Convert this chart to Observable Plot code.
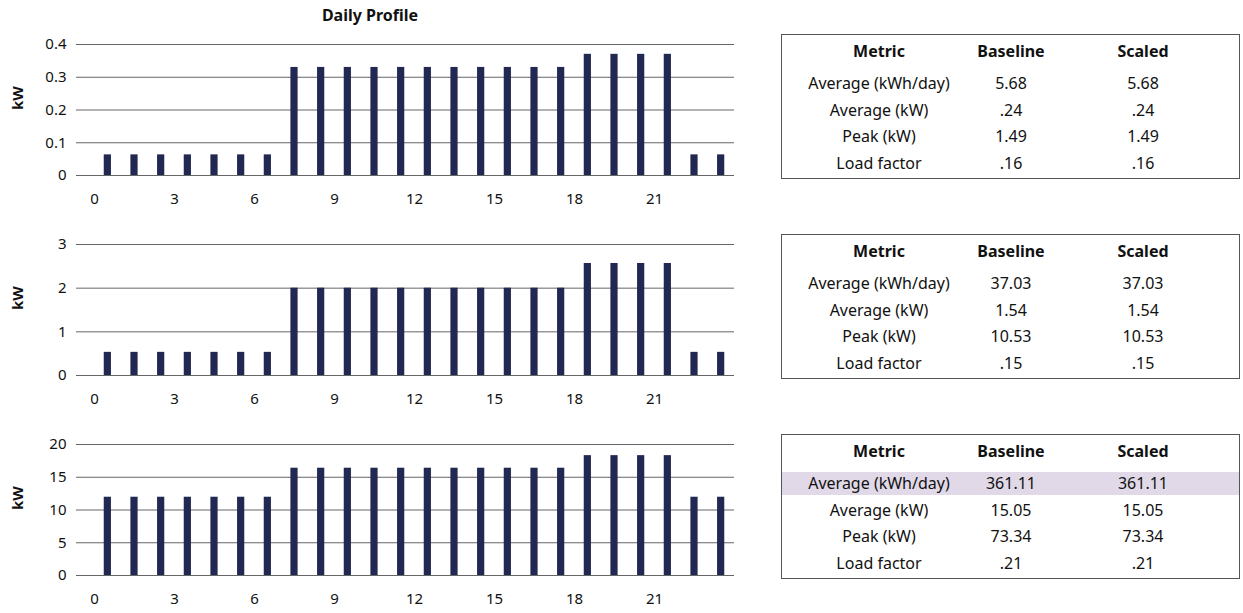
<!DOCTYPE html>
<html><head><meta charset="utf-8">
<script src="https://cdn.jsdelivr.net/npm/d3@7"></script>
<script src="https://cdn.jsdelivr.net/npm/@observablehq/plot@0.6"></script>
<style>
body{margin:0;background:#fff;font-family:"Noto Sans",sans-serif;color:#111;}
#wrap{position:relative;width:1243px;height:613px;overflow:hidden;}
.chart{position:absolute;left:0;}
.title{position:absolute;left:0;width:740px;text-align:center;top:4px;font-weight:bold;font-size:16px;}
.tbl{position:absolute;left:781px;width:457px;height:143px;border:1px solid #555;font-size:16px;}
.row{position:absolute;left:0;width:457px;}
.cell{position:absolute;width:200px;text-align:center;}
</style></head>
<body><div id="wrap"></div>
<script>
const hours = d3.range(24);
const xTicks = [0,3,6,9,12,15,18,21];
const load1 = [0.063,0.063,0.063,0.063,0.063,0.063,0.063,0.33,0.33,0.33,0.33,0.33,0.33,0.33,0.33,0.33,0.33,0.33,0.37,0.37,0.37,0.37,0.063,0.063];
const load2 = [0.53,0.53,0.53,0.53,0.53,0.53,0.53,2.0,2.0,2.0,2.0,2.0,2.0,2.0,2.0,2.0,2.0,2.0,2.565,2.565,2.565,2.565,0.53,0.53];
const load3 = [11.95,11.95,11.95,11.95,11.95,11.95,11.95,16.38,16.38,16.38,16.38,16.38,16.38,16.38,16.38,16.38,16.38,16.38,18.3,18.3,18.3,18.3,11.95,11.95];
const yTicks1 = [0,0.1,0.2,0.3,0.4];
const yTicks2 = [0,1,2,3];
const yTicks3 = [0,5,10,15,20];
const metrics = ["Average (kWh/day)","Average (kW)","Peak (kW)","Load factor"];
const headers = ["Metric","Baseline","Scaled"];
const baseline1 = ["5.68",".24","1.49",".16"];
const scaled1 = ["5.68",".24","1.49",".16"];
const baseline2 = ["37.03","1.54","10.53",".15"];
const scaled2 = ["37.03","1.54","10.53",".15"];
const baseline3 = ["361.11","15.05","73.34",".21"];
const scaled3 = ["361.11","15.05","73.34",".21"];

const wrap = document.getElementById("wrap");
const barColor = "#212852";

function chart(values, yTicks, top){
  const data = hours.map((h,i)=>({hour:h, kw:values[i]}));
  const p = Plot.plot({
    width:740, height:213,
    marginLeft:76, marginRight:6, marginTop:44, marginBottom:38,
    style:{fontFamily:"Noto Sans", fontSize:"15px", color:"#111", background:"transparent"},
    x:{domain:[-0.675,24], ticks:xTicks, tickSize:0, tickPadding:18, label:null, tickFormat:d=>String(d)},
    y:{domain:[yTicks[0], yTicks[yTicks.length-1]], ticks:yTicks, tickSize:0, tickPadding:10, label:null, tickFormat:d=>String(d)},
    marks:[
      Plot.ruleY(yTicks,{stroke:"#666", strokeWidth:1}),
      Plot.rectY(data,{x1:d=>d.hour+0.5-0.135, x2:d=>d.hour+0.5+0.135, y1:0, y2:"kw", fill:barColor}),
      Plot.text(["kW"],{frameAnchor:"left", dx:-58, dy:0, rotate:-90, fontWeight:"bold", fontSize:15, text:d=>d})
    ]
  });
  p.classList.add("chart");
  p.style.top = top+"px";
  wrap.appendChild(p);
}
chart(load1, yTicks1, 0);
chart(load2, yTicks2, 200);
chart(load3, yTicks3, 400);

const t = document.createElement("div");
t.className="title"; t.textContent="Daily Profile";
wrap.appendChild(t);

const colCenters = [97,229,361];
function table(top, base, scal, highlight){
  const box = document.createElement("div");
  box.className="tbl"; box.style.top = top+"px";
  const rows = [headers].concat(metrics.map((m,i)=>[m, base[i], scal[i]]));
  rows.forEach((r,ri)=>{
    const row = document.createElement("div");
    row.className="row";
    const rt = ri===0 ? -2 : 35 + (ri-1)*26.5;
    const rh = ri===0 ? 37 : 26.5;
    row.style.top = rt+"px"; row.style.height = rh+"px";
    if (highlight && ri===1){ row.style.background="#e1d9e8"; row.style.top=(rt+2)+"px"; row.style.height="23px"; }
    r.forEach((c,ci)=>{
      const cell = document.createElement("div");
      cell.className="cell";
      cell.style.left = (colCenters[ci]-100)+"px";
      cell.style.lineHeight = (highlight && ri===1 ? 23 : rh)+"px";
      if (ri===0) cell.style.fontWeight="bold";
      cell.textContent = c;
      row.appendChild(cell);
    });
    box.appendChild(row);
  });
  wrap.appendChild(box);
}
table(34, baseline1, scaled1, false);
table(234, baseline2, scaled2, false);
table(434, baseline3, scaled3, true);
</script></body></html>
